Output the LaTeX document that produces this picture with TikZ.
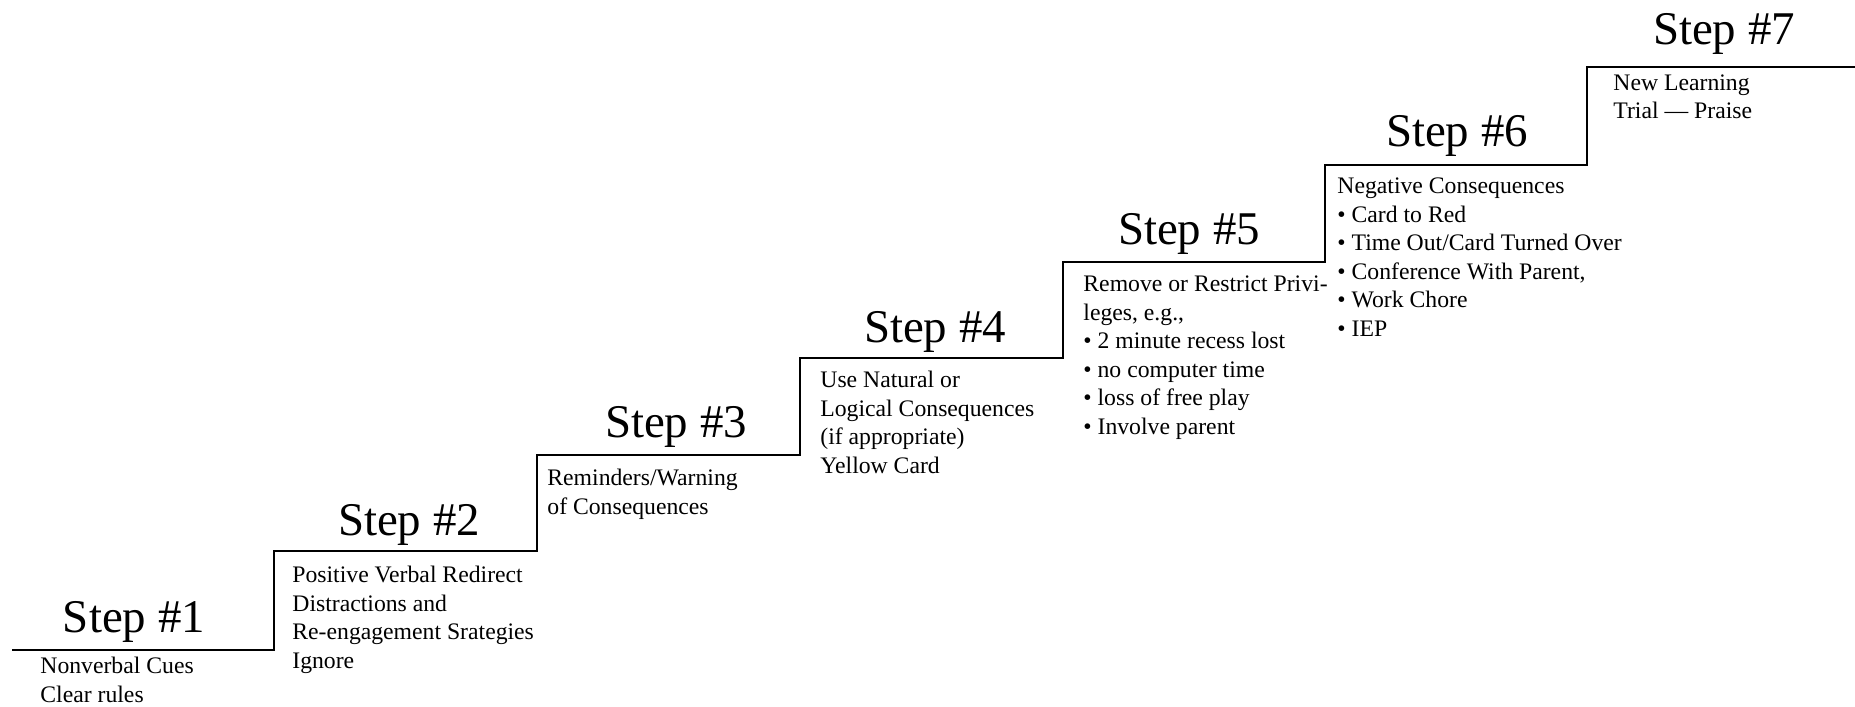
\documentclass[tikz,border=0pt]{standalone}
\usepackage{fontspec}
\setmainfont{Liberation Serif}
\begin{document}
\begin{tikzpicture}[x=0.5pt,y=-0.5pt,
  steplabel/.style={anchor=base, inner sep=0pt, font=\fontsize{23.45}{28}\selectfont},
  bodytext/.style={anchor=base west, inner sep=0pt, align=left, font=\fontsize{11.85}{14.25}\selectfont},
  stair/.style={line width=1.35pt, line join=miter}]
\useasboundingbox (0,0) rectangle (1855,706);
\coordinate (s0) at (12,650);
\coordinate (s1) at (274,551);
\coordinate (s2) at (537,455);
\coordinate (s3) at (800,358);
\coordinate (s4) at (1063,262);
\coordinate (s5) at (1325,165);
\coordinate (s6) at (1587,67);
\coordinate (s7) at (1855,67);
\draw[stair] (s0) -| (s1) -| (s2) -| (s3) -| (s4) -| (s5) -| (s6) -- (s7);

\node[steplabel] (h1) at (134,632) {Step \#1};
\node[steplabel] (h2) at (409,535) {Step \#2};
\node[steplabel] (h3) at (676,437) {Step \#3};
\node[steplabel] (h4) at (935,342) {Step \#4};
\node[steplabel] (h5) at (1189,244) {Step \#5};
\node[steplabel] (h6) at (1457,147) {Step \#6};
\node[steplabel] (h7) at (1724,45) {Step \#7};

% anchor base = baseline of the last line
\node[bodytext] (t1) at (40,702) {Nonverbal Cues\\Clear rules};
\node[bodytext] (t2) at (292,668) {Positive Verbal Redirect\\Distractions and\\Re-engagement Srategies\\Ignore};
\node[bodytext] (t3) at (547,514) {Reminders/Warning\\of Consequences};
\node[bodytext] (t4) at (820,473) {Use Natural or\\Logical Consequences\\(if appropriate)\\Yellow Card};
\node[bodytext] (t5) at (1083,434) {Remove or Restrict Privi-\\leges, e.g.,\\• 2 minute recess lost\\• no computer time\\• loss of free play\\• Involve parent};
\node[bodytext] (t6) at (1337,336) {Negative Consequences\\• Card to Red\\• Time Out/Card Turned Over\\• Conference With Parent,\\• Work Chore\\• IEP};
\node[bodytext] (t7) at (1613,119) {New Learning\\Trial — Praise};
\end{tikzpicture}
\end{document}
